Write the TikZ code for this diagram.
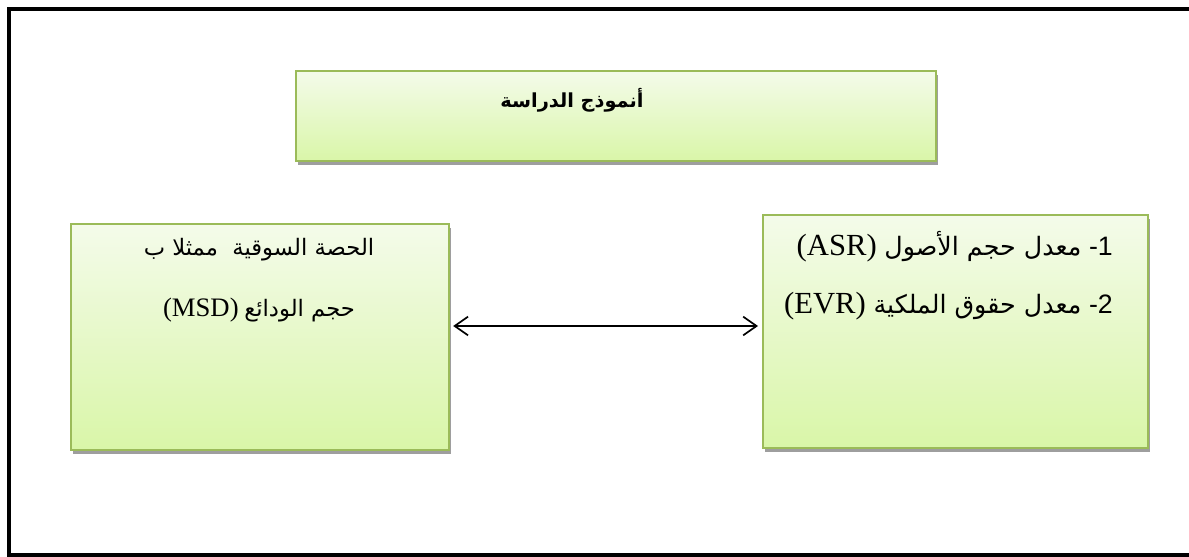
\documentclass[tikz,border=0pt]{standalone}
\usepackage{fontspec}
\setmainfont{Liberation Serif}
\newfontfamily\arabicfont[Script=Arabic]{DejaVu Sans}
\newfontfamily\numfont{Liberation Sans}
\TeXXeTstate=1
\usetikzlibrary{arrows.meta,shadows}
\definecolor{boxborder}{HTML}{9BBB59}
\definecolor{boxtop}{HTML}{F4FBEA}
\definecolor{boxbottom}{HTML}{D9F6A8}
\definecolor{shadowgray}{HTML}{9E9E9E}
\newcommand\pxu{0.75pt}
\begin{document}
\begin{tikzpicture}[x=0.75pt,y=-0.75pt,
  greenbox/.style={draw=boxborder, line width=2.2*\pxu, top color=boxtop, bottom color=boxbottom,
    inner sep=0pt, anchor=north west,
    drop shadow={shadow xshift=2*\pxu, shadow yshift=-4*\pxu, fill=shadowgray, opacity=1}},
  frameline/.style={line width=4.5*\pxu, black},
  ltxt/.style={inner sep=0pt, font=\fontsize{17}{20}\selectfont},
  rtxt/.style={inner sep=0pt, anchor=east, font=\fontsize{23}{26}\selectfont},
  link/.style={line width=1.7*\pxu, {Straight Barb[length=10pt,width=14pt]}-{Straight Barb[length=10pt,width=14pt]}}
]
\useasboundingbox (0,0) rectangle (1189,557);
\fill[white] (0,0) rectangle (1189,557);
% outer frame (right side cut off)
\coordinate (ftr) at (1189,9);
\coordinate (ftl) at (9,9);
\coordinate (fbl) at (9,555);
\coordinate (fbr) at (1189,555);
\begin{scope}
\clip (0,0) rectangle (1189,557);
\draw[frameline, line cap=butt] (ftr) -- (ftl) -- (fbl) -- (fbr);
\end{scope}
% boxes
\node[greenbox, minimum width=640*\pxu, minimum height=90*\pxu] (top) at (295,70) {};
\node[greenbox, minimum width=378*\pxu, minimum height=226*\pxu] (lbox) at (70,223) {};
\node[greenbox, minimum width=385*\pxu, minimum height=233*\pxu] (rbox) at (762,214) {};
% texts
\node[inner sep=0pt, font=\fontsize{14.5}{18}\selectfont] (title) at (572,100) {\arabicfont\bfseries\beginR أنموذج الدراسة\endR};
\node[ltxt] (l1) at (259,250) {\arabicfont\beginR الحصة السوقية ~ممثلا ب\endR};
\node[ltxt] (l2) at (259,310) {{\fontsize{20}{22}\selectfont (MSD)} {\arabicfont\beginR حجم الودائع\endR}};
\node[rtxt] (r1) at (1113,247) {(ASR) {\arabicfont\fontsize{19}{22}\selectfont\beginR معدل حجم الأصول\endR} {\numfont\fontsize{20}{22}\selectfont -1}};
\node[rtxt] (r2) at (1113,306) {(EVR) {\arabicfont\fontsize{19}{22}\selectfont\beginR معدل حقوق الملكية\endR} {\numfont\fontsize{20}{22}\selectfont -2}};
% connector
\coordinate (arow) at (0,326);
\draw[link, shorten <=3*\pxu, shorten >=4*\pxu] (lbox.east |- arow) -- (rbox.west |- arow);
\end{tikzpicture}
\end{document}
